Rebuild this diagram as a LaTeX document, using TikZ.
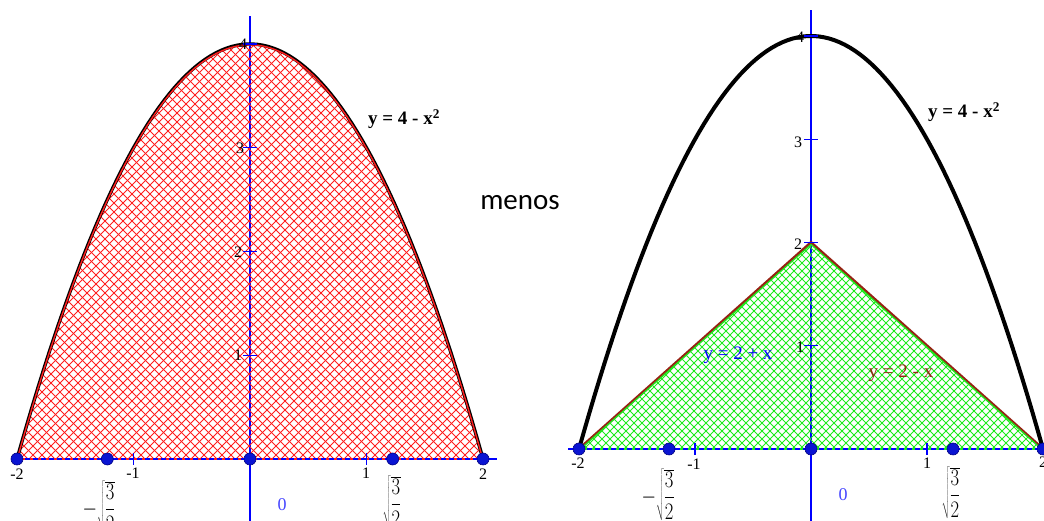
\documentclass[tikz,border=0pt]{standalone}
\usepackage{fontspec}
\setmainfont{Liberation Serif}
\newfontfamily\menosfont{Carlito}
\definecolor{axblue}{RGB}{0,0,255}
\definecolor{dotblue}{RGB}{10,20,210}
\definecolor{hatchred}{RGB}{255,30,30}
\definecolor{hatchgreen}{RGB}{30,235,30}
\definecolor{edgered}{RGB}{150,35,20}
\definecolor{zeroblue}{RGB}{70,70,255}
\newcommand{\sqfrac}{\sqrt{\displaystyle\frac{3}{2}}}
\tikzset{
  axis/.style={draw=axblue, line width=2},
  tick/.style={draw=axblue, line width=1.2},
  hatchR/.style={draw=hatchred, line width=0.8},
  hatchG/.style={draw=hatchgreen, line width=0.8},
  dot/.style={circle, fill=dotblue, draw=blue!50!black, line width=0.6, minimum size=12, inner sep=0},
  ticklab/.style={font=\fontsize{16}{16}\selectfont, inner sep=0},
  eqlab/.style={font=\fontsize{19}{19}\selectfont\bfseries, inner sep=0},
  linelab/.style={font=\fontsize{19}{19}\selectfont, inner sep=0},
  sqlab/.style={font=\fontsize{24}{24}\selectfont, inner sep=0},
  zerolab/.style={font=\fontsize{18}{18}\selectfont, text=zeroblue, inner sep=0},
}
\begin{document}
\begin{tikzpicture}[x=1pt,y=1pt]
\useasboundingbox (0,0) rectangle (1044,521);
% ================= LEFT PLOT
\coordinate (Lo) at (250,62);
\draw[axis] (14,62) -- (497,62);
\draw[axis] (250,0) -- (250,505);
\begin{scope}
  \clip plot[domain=-2:2,samples=90] ({250+116.5*\x},{62+103.75*(4-\x*\x)}) -- cycle;
  \foreach \k in {-600,-591,...,520} {\draw[hatchR] (\k,0) -- ++(600,600);}
  \foreach \k in {0,9,...,1120} {\draw[hatchR] (\k,0) -- ++(-600,600);}
\end{scope}
\draw[draw=hatchred, line width=1.6] (17,62) -- (483,62);
\draw[draw=axblue, line width=1.6, dash pattern=on 5 off 3] (17,62) -- (483,62);
\draw[black, line width=3.4] plot[domain=-2:2,samples=90] ({250+116.5*\x},{62+103.75*(4-\x*\x)});
\draw[hatchred, line width=1.4] plot[domain=-2:2,samples=90] ({250+116.5*\x},{62+103.75*(4-\x*\x)-0.8});
\foreach \t in {1,2,3,4} {\draw[tick] (243,{62+103.75*\t}) -- (257,{62+103.75*\t});}
\foreach \t in {-1,1} {\draw[tick] ({250+116.5*\t},56) -- ({250+116.5*\t},68);}
\node[dot] (L1) at (17,62) {};
\node[dot] (L2) at (107.3,62) {};
\node[dot] (L3) at (250,62) {};
\node[dot] (L4) at (392.7,62) {};
\node[dot] (L5) at (483,62) {};
\node[ticklab] (ly1) at (238,166) {1};
\node[ticklab] (ly2) at (238,269) {2};
\node[ticklab] (ly3) at (240,373) {3};
\node[ticklab] (ly4) at (243,477) {4};
\node[ticklab] (lxm2) at (17,47) {-2};
\node[ticklab] (lxm1) at (133,48) {-1};
\node[ticklab] (lx1) at (366,48) {1};
\node[ticklab] (lx2) at (483,47) {2};
\node[sqlab] (lsqm) at (99,14) {\scalebox{0.75}[0.95]{$-\sqfrac$}};
\node[sqlab] (lsqp) at (392,19) {\scalebox{0.75}[0.95]{$\sqfrac$}};
\node[zerolab] (l0) at (282,16) {0};
\node[eqlab] (leq) at (404,402) {y = 4 - x\textsuperscript{2}};
% ================= MENOS
\node[font=\menosfont\fontsize{29}{29}\selectfont, inner sep=0] (menos) at (520,318) {menos};
% ================= RIGHT PLOT
\coordinate (Ro) at (811,72);
\draw[axis] (568,72) -- (1050,72);
\draw[axis] (811,0) -- (811,511);
\begin{scope}
  \clip (579,72) -- (811,278.5) -- (1043,72) -- cycle;
  \foreach \k in {0,8,...,1120} {\draw[hatchG] (\k,0) -- ++(600,600);}
  \foreach \k in {500,508,...,1600} {\draw[hatchG] (\k,0) -- ++(-600,600);}
\end{scope}
\draw[draw=hatchgreen, line width=1.6] (579,72) -- (1043,72);
\draw[draw=axblue, line width=1.6, dash pattern=on 5 off 3] (579,72) -- (1043,72);
\draw[edgered, line width=2.8] (579,72) -- (811,278.5) -- (1043,72);
\draw[hatchgreen, line width=1.3] (580.5,72) -- (811,276.5) -- (1041.5,72);
\draw[black, line width=4] plot[domain=-2:2,samples=90] ({811+116*\x},{72+103.25*(4-\x*\x)});
\foreach \t in {1,2,3,4} {\draw[tick] (804,{72+103.25*\t}) -- (818,{72+103.25*\t});}
\foreach \t in {-1,1} {\draw[tick] ({811+116*\t},66) -- ({811+116*\t},78);}
\node[dot] (R1) at (579,72) {};
\node[dot] (R2) at (669,72) {};
\node[dot] (R3) at (811,72) {};
\node[dot] (R4) at (953,72) {};
\node[dot] (R5) at (1043,72) {};
\node[ticklab] (ry1) at (800,174) {1};
\node[ticklab] (ry2) at (798,277) {2};
\node[ticklab] (ry3) at (798,379) {3};
\node[ticklab] (ry4) at (800,484) {4};
\node[ticklab] (rxm2) at (578,58) {-2};
\node[ticklab] (rxm1) at (694,57) {-1};
\node[ticklab] (rx1) at (927,58) {1};
\node[ticklab] (rx2) at (1043,59) {2};
\node[sqlab] (rsqm) at (658,26) {\scalebox{0.75}[0.95]{$-\sqfrac$}};
\node[sqlab] (rsqp) at (951,28) {\scalebox{0.75}[0.95]{$\sqfrac$}};
\node[zerolab] (r0) at (843,26) {0};
\node[eqlab] (req) at (964,409) {y = 4 - x\textsuperscript{2}};
\node[linelab, text=blue] (reqa) at (738,166) {y = 2 + x};
\node[linelab, text=edgered] (reqb) at (901,148) {y = 2 - x};
\end{tikzpicture}
\end{document}
